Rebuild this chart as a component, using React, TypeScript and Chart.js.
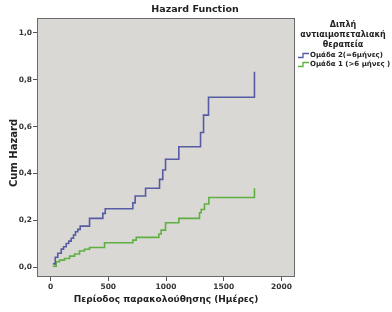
import React, { useEffect, useRef } from "react";
import { Chart, registerables } from "chart.js";

Chart.register(...registerables);

const blueTimes = [20, 41, 63, 93, 113, 136, 158, 179, 199, 216, 236, 257, 338, 453, 474, 713, 733, 823, 944, 972, 996, 1111, 1299, 1325, 1368, 1766];
const blueValues = [0.015, 0.043, 0.06, 0.078, 0.088, 0.102, 0.112, 0.124, 0.138, 0.152, 0.162, 0.176, 0.209, 0.23, 0.25, 0.275, 0.304, 0.337, 0.375, 0.415, 0.461, 0.514, 0.575, 0.649, 0.725, 0.834];
const greenTimes = [20, 49, 78, 121, 165, 208, 251, 294, 338, 468, 713, 742, 938, 958, 996, 1111, 1290, 1305, 1333, 1371, 1766];
const greenValues = [0.005, 0.024, 0.031, 0.038, 0.048, 0.057, 0.07, 0.077, 0.085, 0.105, 0.116, 0.128, 0.142, 0.159, 0.19, 0.209, 0.233, 0.247, 0.27, 0.298, 0.337];

const xTicks = [0, 500, 1000, 1500, 2000];
const yTicks = [0, 0.2, 0.4, 0.6, 0.8, 1.0];

const chartTitle = "Hazard Function";
const xTitle = "Περίοδος παρακολούθησης (Ημέρες)";
const yTitle = "Cum Hazard";
const legendTitle = ["Διπλή", "αντιαιμοπεταλιακή", "θεραπεία"];
const seriesNames = ["Ομάδα 2(=6μήνες)", "Ομάδα 1 (>6 μήνες )"];
const seriesColors = ["#565ca4", "#5fb043"];

const FONT = "'DejaVu Sans', Verdana, sans-serif";

const decorPlugin = {
  id: "decor",
  beforeDraw(chart: any) {
    const { ctx, chartArea } = chart;
    const { left, top, right, bottom } = chartArea;
    ctx.save();
    ctx.fillStyle = "#ffffff";
    ctx.fillRect(0, 0, chart.width, chart.height);
    ctx.fillStyle = "#d9d8d4";
    ctx.fillRect(left, top, right - left, bottom - top);
    ctx.restore();
  },
  afterDraw(chart: any) {
    const { ctx, chartArea } = chart;
    const { left, top, right, bottom } = chartArea;
    ctx.save();
    ctx.strokeStyle = "#6a6a6a";
    ctx.lineWidth = 1;
    ctx.strokeRect(left + 0.5, top + 0.5, right - left - 1, bottom - top - 1);

    ctx.fillStyle = "#222";
    ctx.textAlign = "center";
    ctx.textBaseline = "middle";
    ctx.font = `bold 9.5px ${FONT}`;
    ctx.fillText(chartTitle, 195, 10);

    ctx.font = `bold 9px ${FONT}`;
    ctx.fillText(xTitle, 166, 300);

    ctx.font = `bold 10px ${FONT}`;
    ctx.save();
    ctx.translate(14, 153);
    ctx.rotate(-Math.PI / 2);
    ctx.fillText(yTitle, 0, 0);
    ctx.restore();

    ctx.font = `bold 8px ${FONT}`;
    const lx = 343;
    legendTitle.forEach((t, i) => ctx.fillText(t, lx, 25 + i * 10));

    ctx.textAlign = "left";
    ctx.font = `bold 7px ${FONT}`;
    seriesNames.forEach((n, i) => {
      const y = 55.5 + i * 9;
      ctx.strokeStyle = seriesColors[i];
      ctx.lineWidth = 1.3;
      ctx.beginPath();
      ctx.moveTo(298, y + 2);
      ctx.lineTo(303, y + 2);
      ctx.lineTo(303, y - 2);
      ctx.lineTo(309, y - 2);
      ctx.stroke();
      ctx.fillStyle = "#222";
      ctx.fillText(n, 310, y);
    });
    ctx.restore();
  },
};

export default function App() {
  const ref = useRef<HTMLCanvasElement>(null);
  useEffect(() => {
    if (!ref.current) return;
    const mk = (ts: number[], vs: number[]) => ts.map((t, i) => ({ x: t, y: vs[i] }));
    const chart = new Chart(ref.current, {
      type: "line",
      data: {
        datasets: [
          {
            label: seriesNames[0],
            data: mk(blueTimes, blueValues),
            borderColor: seriesColors[0],
            borderWidth: 1.6,
            stepped: "before",
            pointRadius: 0,
            fill: false,
          },
          {
            label: seriesNames[1],
            data: mk(greenTimes, greenValues),
            borderColor: seriesColors[1],
            borderWidth: 1.6,
            stepped: "before",
            pointRadius: 0,
            fill: false,
          },
        ],
      },
      options: {
        animation: false,
        responsive: false,
        layout: { padding: { top: 18, right: 97, left: 0, bottom: 0 } },
        plugins: { legend: { display: false }, title: { display: false }, tooltip: { enabled: false } },
        scales: {
          x: {
            type: "linear",
            min: -117,
            max: 2117,
            afterFit: (s: any) => { s.height = 35; },
            afterBuildTicks: (s: any) => { s.ticks = xTicks.map((v) => ({ value: v })); },
            grid: { drawOnChartArea: false, drawTicks: true, tickLength: 4, color: "#555" },
            border: { display: false },
            ticks: {
              padding: 2,
              color: "#333",
              font: { family: FONT, size: 7.5, weight: "bold" },
              maxRotation: 0,
              callback: (v: any) => String(v),
            },
          },
          y: {
            type: "linear",
            min: -0.041,
            max: 1.063,
            afterFit: (s: any) => { s.width = 37; },
            afterBuildTicks: (s: any) => { s.ticks = yTicks.map((v) => ({ value: v })); },
            grid: { drawOnChartArea: false, drawTicks: true, tickLength: 4, color: "#555" },
            border: { display: false },
            ticks: {
              padding: 1,
              color: "#333",
              font: { family: FONT, size: 7.5, weight: "bold" },
              callback: (v: any) => Number(v).toFixed(1).replace(".", ","),
            },
          },
        },
      },
      plugins: [decorPlugin],
    } as any);
    return () => chart.destroy();
  }, []);
  return (
    <div style={{ position: "absolute", left: 0, top: 0, width: 392, height: 312, background: "#fff" }}>
      <canvas ref={ref} width={392} height={312} />
    </div>
  );
}
